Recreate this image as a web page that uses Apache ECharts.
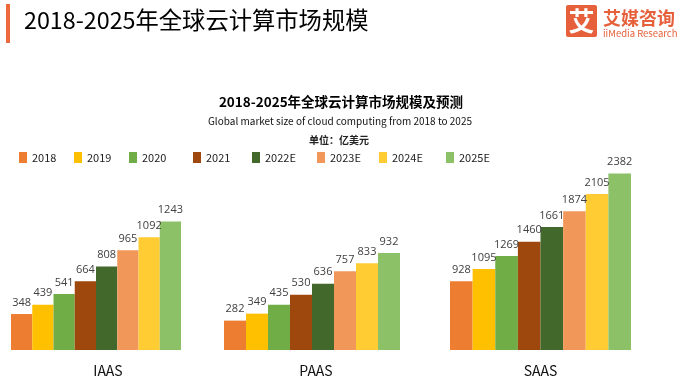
<!DOCTYPE html>
<html><head><meta charset="utf-8">
<script src="https://cdn.jsdelivr.net/npm/echarts@6/dist/echarts.min.js"></script>
<style>html,body{margin:0;padding:0;background:#fff}#c{width:684px;height:392px}</style>
</head><body><div id="c"></div>
<script>
const categories = ['IAAS', 'PAAS', 'SAAS'];
const years = ['2018', '2019', '2020', '2021', '2022E', '2023E', '2024E', '2025E'];
const iaas = [348, 439, 541, 664, 808, 965, 1092, 1243];
const paas = [282, 349, 435, 530, 636, 757, 833, 932];
const saas = [928, 1095, 1269, 1460, 1661, 1874, 2105, 2382];
const groupValues = [iaas, paas, saas];

const colors = ['#ED7D31', '#FFC000', '#70AD47', '#9E480E', '#43682B', '#F1975A', '#FFCD33', '#8CC168'];
const gridLayout = [
  {left: 11, width: 170, max: 1935, labelPad: 24},
  {left: 224, width: 176, max: 1920, labelPad: 8},
  {left: 450, width: 181, max: 2700, labelPad: 0}
];
const legendLeft = [19, 74, 129, 193, 252, 317, 379, 446];
const FONT = '"Noto Sans CJK SC","Noto Sans",sans-serif';

const chart = echarts.init(document.getElementById('c'), null, {renderer: 'canvas'});
const grids = [], xAxes = [], yAxes = [], series = [];
gridLayout.forEach((g, gi) => {
  grids.push({left: g.left, width: g.width, top: 150, bottom: 42});
  xAxes.push({
    type: 'category', gridIndex: gi, data: [categories[gi]],
    axisLine: {show: false}, axisTick: {show: false},
    axisLabel: {fontSize: 14, color: '#111', margin: 14, fontFamily: FONT, padding: [0, 0, 0, g.labelPad]}
  });
  yAxes.push({type: 'value', gridIndex: gi, min: 0, max: g.max, show: false, splitLine: {show: false}});
});
years.forEach((y, i) => {
  groupValues.forEach((vals, gi) => {
    series.push({
      type: 'bar', name: y, xAxisIndex: gi, yAxisIndex: gi,
      data: [vals[i]], barGap: '0%', barCategoryGap: '0%',
      itemStyle: {color: colors[i]},
      label: {show: true, position: 'top', distance: 6, fontSize: 11, color: '#404040', fontFamily: '"Open Sans",sans-serif'},
      emphasis: {disabled: true}
    });
  });
});
const legends = years.map((y, i) => ({
  data: [y], left: legendLeft[i], top: 152, padding: 0, itemWidth: 8, itemHeight: 11, icon: 'rect',
  itemGap: 5, textStyle: {fontSize: 11, color: '#222', fontFamily: FONT}, selectedMode: false
}));

chart.setOption({
  animation: false,
  title: [
    {text: '2018-2025年全球云计算市场规模', left: 19, top: 4, textStyle: {fontSize: 23.3, fontWeight: 'normal', color: '#000', fontFamily: FONT}},
    {text: '2018-2025年全球云计算市场规模及预测', left: 336, textAlign: 'center', top: 90, textStyle: {fontSize: 13.5, fontWeight: 'bold', color: '#000', fontFamily: FONT}},
    {text: 'Global market size of cloud computing from 2018 to 2025', left: 335, textAlign: 'center', top: 111, textStyle: {fontSize: 10, fontWeight: 'normal', color: '#111', fontFamily: FONT}},
    {text: '单位：亿美元', left: 334, textAlign: 'center', top: 130, textStyle: {fontSize: 10, fontWeight: 'bold', color: '#222', fontFamily: FONT}}
  ],
  legend: legends,
  grid: grids, xAxis: xAxes, yAxis: yAxes, series: series,
  graphic: [
    {type: 'rect', shape: {x: 6, y: 4, width: 4, height: 39}, style: {fill: '#EE6A3D'}},
    {type: 'rect', shape: {x: 566, y: 5, width: 31, height: 32, r: 2}, style: {fill: '#E5603B'}},
    {type: 'text', x: 581.5, y: 21, style: {text: '艾', fill: '#fff', fontSize: 26, fontWeight: 'bold', fontFamily: FONT, align: 'center', verticalAlign: 'middle'}},
    {type: 'text', x: 603, y: 18, style: {text: '艾媒咨询', fill: '#E5603B', fontSize: 18, fontWeight: 'bold', fontFamily: FONT, verticalAlign: 'middle'}},
    {type: 'text', x: 603, y: 33, style: {text: 'iiMedia Research', fill: '#E5603B', fontSize: 9.5, fontFamily: FONT, verticalAlign: 'middle'}}
  ]
});
</script></body></html>
